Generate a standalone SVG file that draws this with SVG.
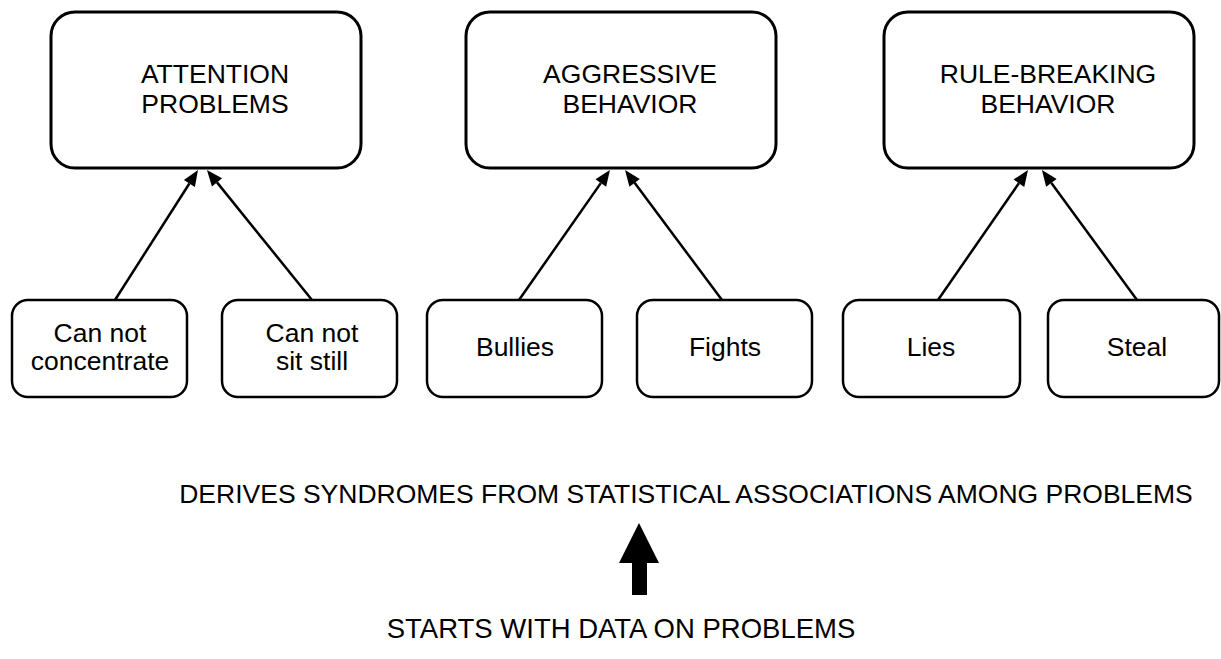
<svg xmlns="http://www.w3.org/2000/svg" width="1221" height="659" viewBox="0 0 1221 659">
  <style>
    .big { fill: #fff; stroke: #000; stroke-width: 3; }
    .small { fill: #fff; stroke: #000; stroke-width: 2.5; }
    text { font-family: "Liberation Sans", Arial, sans-serif; font-size: 26.5px; fill: #000; text-anchor: middle; }
    .conn { fill: none; stroke: #000; stroke-width: 2.5; marker-end: url(#head); }
  </style>
  <defs>
    <marker id="head" markerUnits="userSpaceOnUse" markerWidth="17" markerHeight="14" refX="0" refY="0" viewBox="0 -7 17 14" orient="auto" overflow="visible">
      <path d="M0,-6.5 L16,0 L0,6.5 z" fill="#000"/>
    </marker>
  </defs>
  <rect width="1221" height="659" fill="#fff"/>

  <g id="attention">
    <rect class="big" x="51" y="12" width="310" height="156" rx="24"/>
    <text x="215" y="83">ATTENTION</text>
    <text x="215" y="113">PROBLEMS</text>
  </g>
  <g id="aggressive">
    <rect class="big" x="466" y="12" width="310" height="156" rx="24"/>
    <text x="630" y="83">AGGRESSIVE</text>
    <text x="630" y="113">BEHAVIOR</text>
  </g>
  <g id="rulebreaking">
    <rect class="big" x="884" y="12" width="310" height="156" rx="24"/>
    <text x="1048" y="83">RULE-BREAKING</text>
    <text x="1048" y="113">BEHAVIOR</text>
  </g>

  <g id="concentrate">
    <rect class="small" x="12" y="300" width="175" height="97" rx="16"/>
    <text x="100" y="342">Can not</text>
    <text x="100" y="370">concentrate</text>
  </g>
  <g id="sitstill">
    <rect class="small" x="222" y="300" width="175" height="97" rx="16"/>
    <text x="312" y="342">Can not</text>
    <text x="312" y="370">sit still</text>
  </g>
  <g id="bullies">
    <rect class="small" x="427" y="300" width="175" height="97" rx="16"/>
    <text x="515" y="356">Bullies</text>
  </g>
  <g id="fights">
    <rect class="small" x="637" y="300" width="175" height="97" rx="16"/>
    <text x="725" y="356">Fights</text>
  </g>
  <g id="lies">
    <rect class="small" x="843" y="300" width="177" height="97" rx="16"/>
    <text x="931" y="356">Lies</text>
  </g>
  <g id="steal">
    <rect class="small" x="1048" y="300" width="171" height="97" rx="16"/>
    <text x="1137" y="356">Steal</text>
  </g>

  <g id="connectors">
    <path class="conn" d="M115,300 L189.4,183.5"/>
    <path class="conn" d="M312,300 L217,182.4"/>
    <path class="conn" d="M519,300 L600.8,183.1"/>
    <path class="conn" d="M722,300 L634.6,182.8"/>
    <path class="conn" d="M938,300 L1018.9,183.2"/>
    <path class="conn" d="M1137,300 L1051.4,182.9"/>
  </g>

  <g id="derives">
    <text x="686" y="503">DERIVES SYNDROMES FROM STATISTICAL ASSOCIATIONS AMONG PROBLEMS</text>
  </g>
  <g id="bigarrow">
    <polygon points="639,523 659,563 647,563 647,595 632,595 632,563 619,563" fill="#000"/>
  </g>
  <g id="starts">
    <text x="621" y="638" style="font-size:27.5px">STARTS WITH DATA ON PROBLEMS</text>
  </g>
</svg>
